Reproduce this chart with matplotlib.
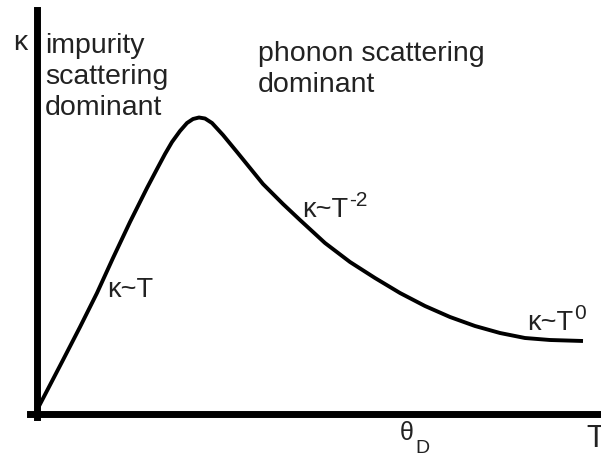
import matplotlib
matplotlib.use("Agg")
import matplotlib.pyplot as plt

plt.rcParams['font.family'] = ['Liberation Sans', 'DejaVu Sans']

# curve (T, kappa in arbitrary units)
T = [0, 13, 26, 43, 60, 76, 93, 110, 120, 128, 135, 143, 150, 156, 162, 168, 175, 186,
     200, 213, 226, 246, 263, 288, 313, 338, 363, 388, 413, 438, 463, 488, 513, 546]
kappa = [2, 27, 52, 85, 119, 154, 190, 224, 243, 258, 270, 281, 289, 293, 294.5, 293.5, 289, 277,
         260, 244, 228, 208, 192, 169, 150, 134, 119, 106, 95, 86, 79, 74, 72, 71]

fig = plt.figure(figsize=(6.01, 4.57), dpi=100)
ax = fig.add_axes([0, 0, 1, 1])
ax.set_xlim(-37, 564)
ax.set_ylim(-45, 412)

ax.plot(T, kappa, color='black', lw=2.8, solid_capstyle='butt', solid_joinstyle='round')

for s in ['top', 'right']:
    ax.spines[s].set_visible(False)
ax.spines['left'].set_position(('data', 0))
ax.spines['bottom'].set_position(('data', -2))
ax.spines['left'].set_linewidth(5)
ax.spines['bottom'].set_linewidth(5)
ax.spines['left'].set_bounds(-5, 402)
ax.spines['bottom'].set_bounds(-7, 564)
ax.set_xticks([])
ax.set_yticks([])
ax.patch.set_visible(False)

fs = 20.5
col = '#222222'
ax.text(-24, 362, 'κ', fontsize=fs, va='baseline', ha='left', color=col)
ax.text(8, 297, 'impurity\nscattering\ndominant', fontsize=fs, va='baseline', ha='left',
        linespacing=1.25, color=col)
ax.text(221, 320, 'phonon scattering\ndominant', fontsize=fs, va='baseline', ha='left',
        linespacing=1.25, color=col)

lfs = 19.5
ax.text(70, 115, 'κ~T', fontsize=lfs, va='baseline', ha='left', color=col)
t2 = ax.text(265, 195, 'κ~T', fontsize=lfs, va='baseline', ha='left', color=col)
ax.annotate('-2', xy=(1, 1), xycoords=t2, xytext=(1, 4), textcoords='offset points',
            fontsize=15, va='top', ha='left', color=col)
t0 = ax.text(490, 82, 'κ~T', fontsize=lfs, va='baseline', ha='left', color=col)
ax.annotate('0', xy=(1, 1), xycoords=t0, xytext=(1, 4), textcoords='offset points',
            fontsize=15, va='top', ha='left', color=col)

th = ax.text(363, -28, 'θ', fontsize=18, va='baseline', ha='left', color=col)
ax.annotate('D', xy=(1, 0), xycoords=th, xytext=(1, -6), textcoords='offset points',
            fontsize=14, va='baseline', ha='left', color=col)
ax.text(549, -35, 'T', fontsize=22, va='baseline', ha='left', color=col)

fig.savefig('out.png', dpi=100)
